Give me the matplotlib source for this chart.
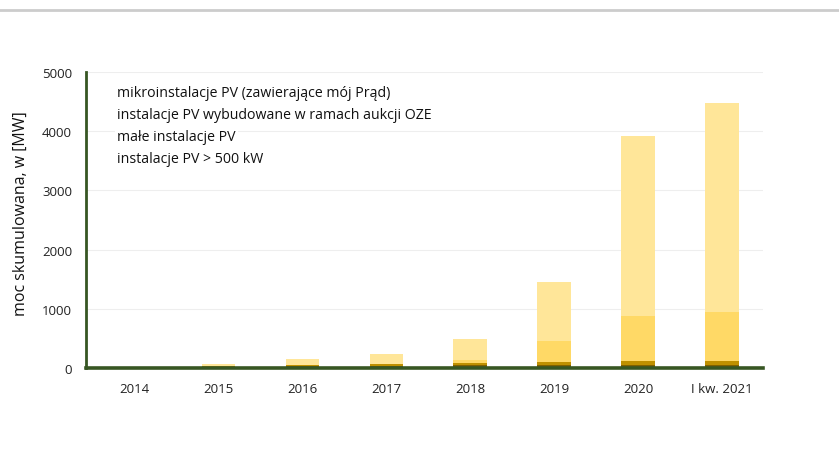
import matplotlib
matplotlib.use("Agg")
from matplotlib import pyplot as plt
from matplotlib.lines import Line2D
import numpy as np

plt.rcParams['font.family'] = ['Open Sans', 'DejaVu Sans']

years = ["2014", "2015", "2016", "2017", "2018", "2019", "2020", "I kw. 2021"]

# cumulative capacity [MW], one list per installation type
pv_over_500kw = [2, 25, 35, 40, 50, 50, 55, 56]
small_pv = [1, 10, 20, 22, 40, 45, 58, 68]
auction_pv = [0, 3, 2, 5, 50, 355, 760, 827]
micro_pv = [2, 25, 95, 165, 350, 1005, 3047, 3525]

labels = [
    "mikroinstalacje PV (zawierające mój Prąd)",
    "instalacje PV wybudowane w ramach aukcji OZE",
    "małe instalacje PV",
    "instalacje PV > 500 kW",
]
colors = ["#FFE699", "#FFD966", "#BF9000", "#7F6000"]

fig = plt.figure(figsize=(8.39, 4.52), dpi=100)
ax = fig.add_axes([0.1025, 0.1836, 0.807, 0.6549])

x = np.arange(len(years))
w = 0.4
bottom = np.zeros(len(years))
stack = [pv_over_500kw, small_pv, auction_pv, micro_pv]
for vals, col in zip(stack, colors[::-1]):
    ax.bar(x, vals, w, bottom=bottom, color=col, zorder=2)
    bottom += np.array(vals)

ax.set_xlim(-0.58, 7.49)
ax.set_ylim(0, 5000)
ax.set_yticks(range(0, 5001, 1000))
ax.set_xticks(x)
ax.set_xticklabels(years)
ax.tick_params(length=0, labelsize=9.5, colors="#222222", pad=10)
ax.tick_params(axis="y", pad=10)
ax.grid(axis="y", color="#eeeeee", linewidth=0.8, zorder=0)

for s in ["top", "right"]:
    ax.spines[s].set_visible(False)
ax.spines["left"].set_color("#375623")
ax.spines["left"].set_linewidth(2)
ax.spines["bottom"].set_color("#375623")
ax.spines["bottom"].set_linewidth(2.6)
ax.spines["bottom"].set_zorder(3)

ax.set_ylabel("moc skumulowana, w [MW]", fontsize=11.5, color="#111111")
ax.yaxis.set_label_coords(-0.084, 0.524)

# legend as plain text lines, no colour keys
for i, lab in enumerate(labels):
    ax.text(0.046, 0.93 - i * 0.074, lab, transform=ax.transAxes, fontsize=10.2,
            color="#111111", va="center", ha="left", zorder=4,
            bbox=dict(facecolor="white", edgecolor="none", pad=1.5))

# thin separator line at the top of the figure
fig.add_artist(Line2D([0, 1], [0.975, 0.975], transform=fig.transFigure,
                      color="#cccccc", linewidth=2))

fig.savefig("out.png", dpi=100, facecolor="white")
